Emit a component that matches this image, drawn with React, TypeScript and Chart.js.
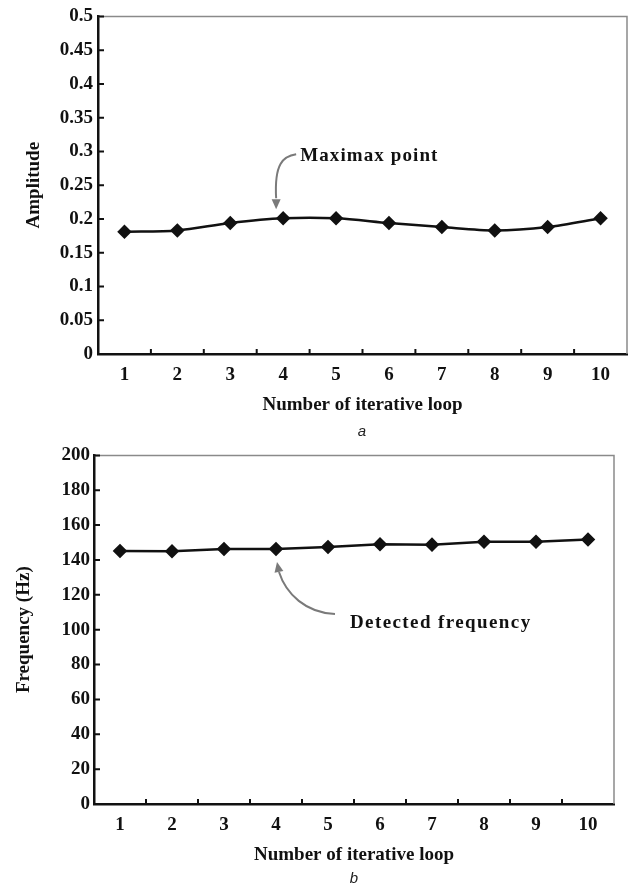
import React, { useEffect, useRef } from "react";
import { Chart, registerables } from "chart.js";

Chart.register(...registerables);

// ---------- data ----------
const iterations = ["1", "2", "3", "4", "5", "6", "7", "8", "9", "10"];
const amplitudeValues = [0.181, 0.183, 0.194, 0.201, 0.201, 0.194, 0.188, 0.183, 0.188, 0.201];
const frequencyValues = [145.2, 145.0, 146.3, 146.3, 147.5, 149.0, 148.8, 150.5, 150.5, 151.7];
const amplitudeTickLabels = ["0", "0.05", "0.1", "0.15", "0.2", "0.25", "0.3", "0.35", "0.4", "0.45", "0.5"];
const frequencyTickLabels = ["0", "20", "40", "60", "80", "100", "120", "140", "160", "180", "200"];
const xTitle = "Number of iterative loop";

const SERIF = "'Liberation Serif', 'Times New Roman', serif";

type Ann = {
  text: string;
  index: number;
  textDx: number;
  textDy: number;
  spacing: number;
  path: number[][];
};

type Cfg = {
  values: number[];
  tickLabels: string[];
  yMax: number;
  yStep: number;
  yTitle: string;
  yTitlePad: number;
  xTitlePad: number;
  yWidth: number;
  xHeight: number;
  padTop: number;
  padRight: number;
  yTickPad: number;
  tension: number;
  ann: Ann;
};

function makeChart(canvas: HTMLCanvasElement, c: Cfg) {
  const framePlugin = {
    id: "frame",
    afterDraw(chart: any) {
      const { ctx, chartArea: a } = chart;
      const ys = chart.scales.y;
      const xs = chart.scales.x;
      ctx.save();
      // gray top/right border
      ctx.strokeStyle = "#8a8a8a";
      ctx.lineWidth = 1.5;
      ctx.beginPath();
      ctx.moveTo(a.left, a.top);
      ctx.lineTo(a.right, a.top);
      ctx.lineTo(a.right, a.bottom);
      ctx.stroke();
      // inside ticks
      ctx.strokeStyle = "#111";
      ctx.lineWidth = 2;
      ctx.beginPath();
      ys.ticks.forEach((t: any) => {
        const y = ys.getPixelForValue(t.value);
        ctx.moveTo(a.left, y);
        ctx.lineTo(a.left + 6, y);
      });
      for (let i = 1; i < c.values.length; i++) {
        const x = (xs.getPixelForValue(i - 1) + xs.getPixelForValue(i)) / 2;
        ctx.moveTo(x, a.bottom);
        ctx.lineTo(x, a.bottom - 5);
      }
      ctx.stroke();

      // annotation
      const pt = chart.getDatasetMeta(0).data[c.ann.index];
      const px = pt.x;
      const py = pt.y;
      const p = c.ann.path;
      ctx.strokeStyle = "#7a7a7a";
      ctx.fillStyle = "#7a7a7a";
      ctx.lineWidth = 2;
      ctx.beginPath();
      ctx.moveTo(px + p[0][0], py + p[0][1]);
      ctx.bezierCurveTo(px + p[1][0], py + p[1][1], px + p[2][0], py + p[2][1], px + p[3][0], py + p[3][1]);
      ctx.stroke();
      const tipX = px + p[4][0];
      const tipY = py + p[4][1];
      const fx = px + p[3][0];
      const fy = py + p[3][1];
      const ang = Math.atan2(tipY - fy, tipX - fx);
      const L = 10;
      const W = 4.5;
      ctx.beginPath();
      ctx.moveTo(tipX, tipY);
      ctx.lineTo(tipX - L * Math.cos(ang) + W * Math.sin(ang), tipY - L * Math.sin(ang) - W * Math.cos(ang));
      ctx.lineTo(tipX - L * Math.cos(ang) - W * Math.sin(ang), tipY - L * Math.sin(ang) + W * Math.cos(ang));
      ctx.closePath();
      ctx.fill();
      ctx.fillStyle = "#111";
      ctx.font = `bold 19px ${SERIF}`;
      ctx.textBaseline = "middle";
      ctx.textAlign = "left";
      (ctx as any).letterSpacing = c.ann.spacing + "px";
      ctx.fillText(c.ann.text, px + c.ann.textDx, py + c.ann.textDy);
      ctx.restore();
    },
  };

  return new Chart(canvas, {
    type: "line",
    data: {
      labels: iterations,
      datasets: [
        {
          data: c.values,
          borderColor: "#111",
          borderWidth: 2.5,
          tension: c.tension,
          pointStyle: "rectRot",
          pointRadius: 5.5,
          pointBackgroundColor: "#111",
          pointBorderColor: "#111",
          clip: false as any,
        },
      ],
    },
    options: {
      responsive: false,
      animation: false,
      layout: { autoPadding: false, padding: { top: c.padTop, right: c.padRight, left: 0, bottom: 0 } },
      plugins: { legend: { display: false }, tooltip: { enabled: false }, title: { display: false } },
      scales: {
        x: {
          type: "category",
          offset: true,
          grid: { display: false, drawTicks: false },
          border: { display: true, color: "#111", width: 2.5 },
          ticks: { color: "#111", padding: 10, font: { family: SERIF, size: 19, weight: "bold" }, maxRotation: 0 },
          title: {
            display: true,
            text: xTitle,
            color: "#111",
            font: { family: SERIF, size: 19, weight: "bold" },
            padding: { top: 0, bottom: c.xTitlePad },
          },
          afterFit: (s: any) => {
            s.height = c.xHeight;
          },
        },
        y: {
          min: 0,
          max: c.yMax,
          grid: { display: false, drawTicks: false },
          border: { display: true, color: "#111", width: 2.5 },
          ticks: {
            stepSize: c.yStep,
            color: "#111",
            padding: c.yTickPad,
            font: { family: SERIF, size: 19, weight: "bold" },
            callback: (_v: any, i: number) => c.tickLabels[i],
          },
          title: {
            display: true,
            text: c.yTitle,
            color: "#111",
            font: { family: SERIF, size: 19, weight: "bold" },
            padding: { top: c.yTitlePad, bottom: 0 },
          },
          afterFit: (s: any) => {
            s.width = c.yWidth;
          },
        },
      },
    },
    plugins: [framePlugin],
  } as any);
}

export default function App() {
  const ref1 = useRef<HTMLCanvasElement>(null);
  const ref2 = useRef<HTMLCanvasElement>(null);

  useEffect(() => {
    const c1 = makeChart(ref1.current!, {
      values: amplitudeValues,
      tickLabels: amplitudeTickLabels,
      yMax: 0.5,
      yStep: 0.05,
      yTitle: "Amplitude",
      yTitlePad: 23,
      xTitlePad: 24,
      yWidth: 98,
      xHeight: 86,
      padTop: 13,
      padRight: 2,
      yTickPad: 5,
      tension: 0.3,
      ann: {
        text: "Maximax point",
        index: 3,
        textDx: 17,
        textDy: -62,
        spacing: 1.1,
        path: [
          [13, -64],
          [0, -62],
          [-9, -55],
          [-7, -20],
          [-7, -9],
        ],
      },
    });
    const c2 = makeChart(ref2.current!, {
      values: frequencyValues,
      tickLabels: frequencyTickLabels,
      yMax: 200,
      yStep: 20,
      yTitle: "Frequency (Hz)",
      yTitlePad: 13,
      xTitlePad: 21,
      yWidth: 94,
      xHeight: 83,
      padTop: 15,
      padRight: 15,
      yTickPad: 4,
      tension: 0,
      ann: {
        text: "Detected frequency",
        index: 3,
        textDx: 74,
        textDy: 74,
        spacing: 1.4,
        path: [
          [59, 65],
          [30, 64],
          [10, 45],
          [3, 23],
          [1, 13],
        ],
      },
    });
    return () => {
      c1.destroy();
      c2.destroy();
    };
  }, []);

  const cap: React.CSSProperties = {
    position: "absolute",
    transform: "translate(-50%, -50%)",
    fontFamily: "'Liberation Sans', Arial, sans-serif",
    fontStyle: "italic",
    fontSize: 15,
    color: "#222",
  };

  return (
    <div style={{ position: "absolute", left: 0, top: 0, width: 629, height: 887, background: "#fff" }}>
      <canvas ref={ref1} width={629} height={440} style={{ position: "absolute", left: 0, top: 0 }} />
      <canvas ref={ref2} width={629} height={447} style={{ position: "absolute", left: 0, top: 440 }} />
      <div style={{ ...cap, left: 362, top: 430 }}>a</div>
      <div style={{ ...cap, left: 354, top: 877 }}>b</div>
    </div>
  );
}
